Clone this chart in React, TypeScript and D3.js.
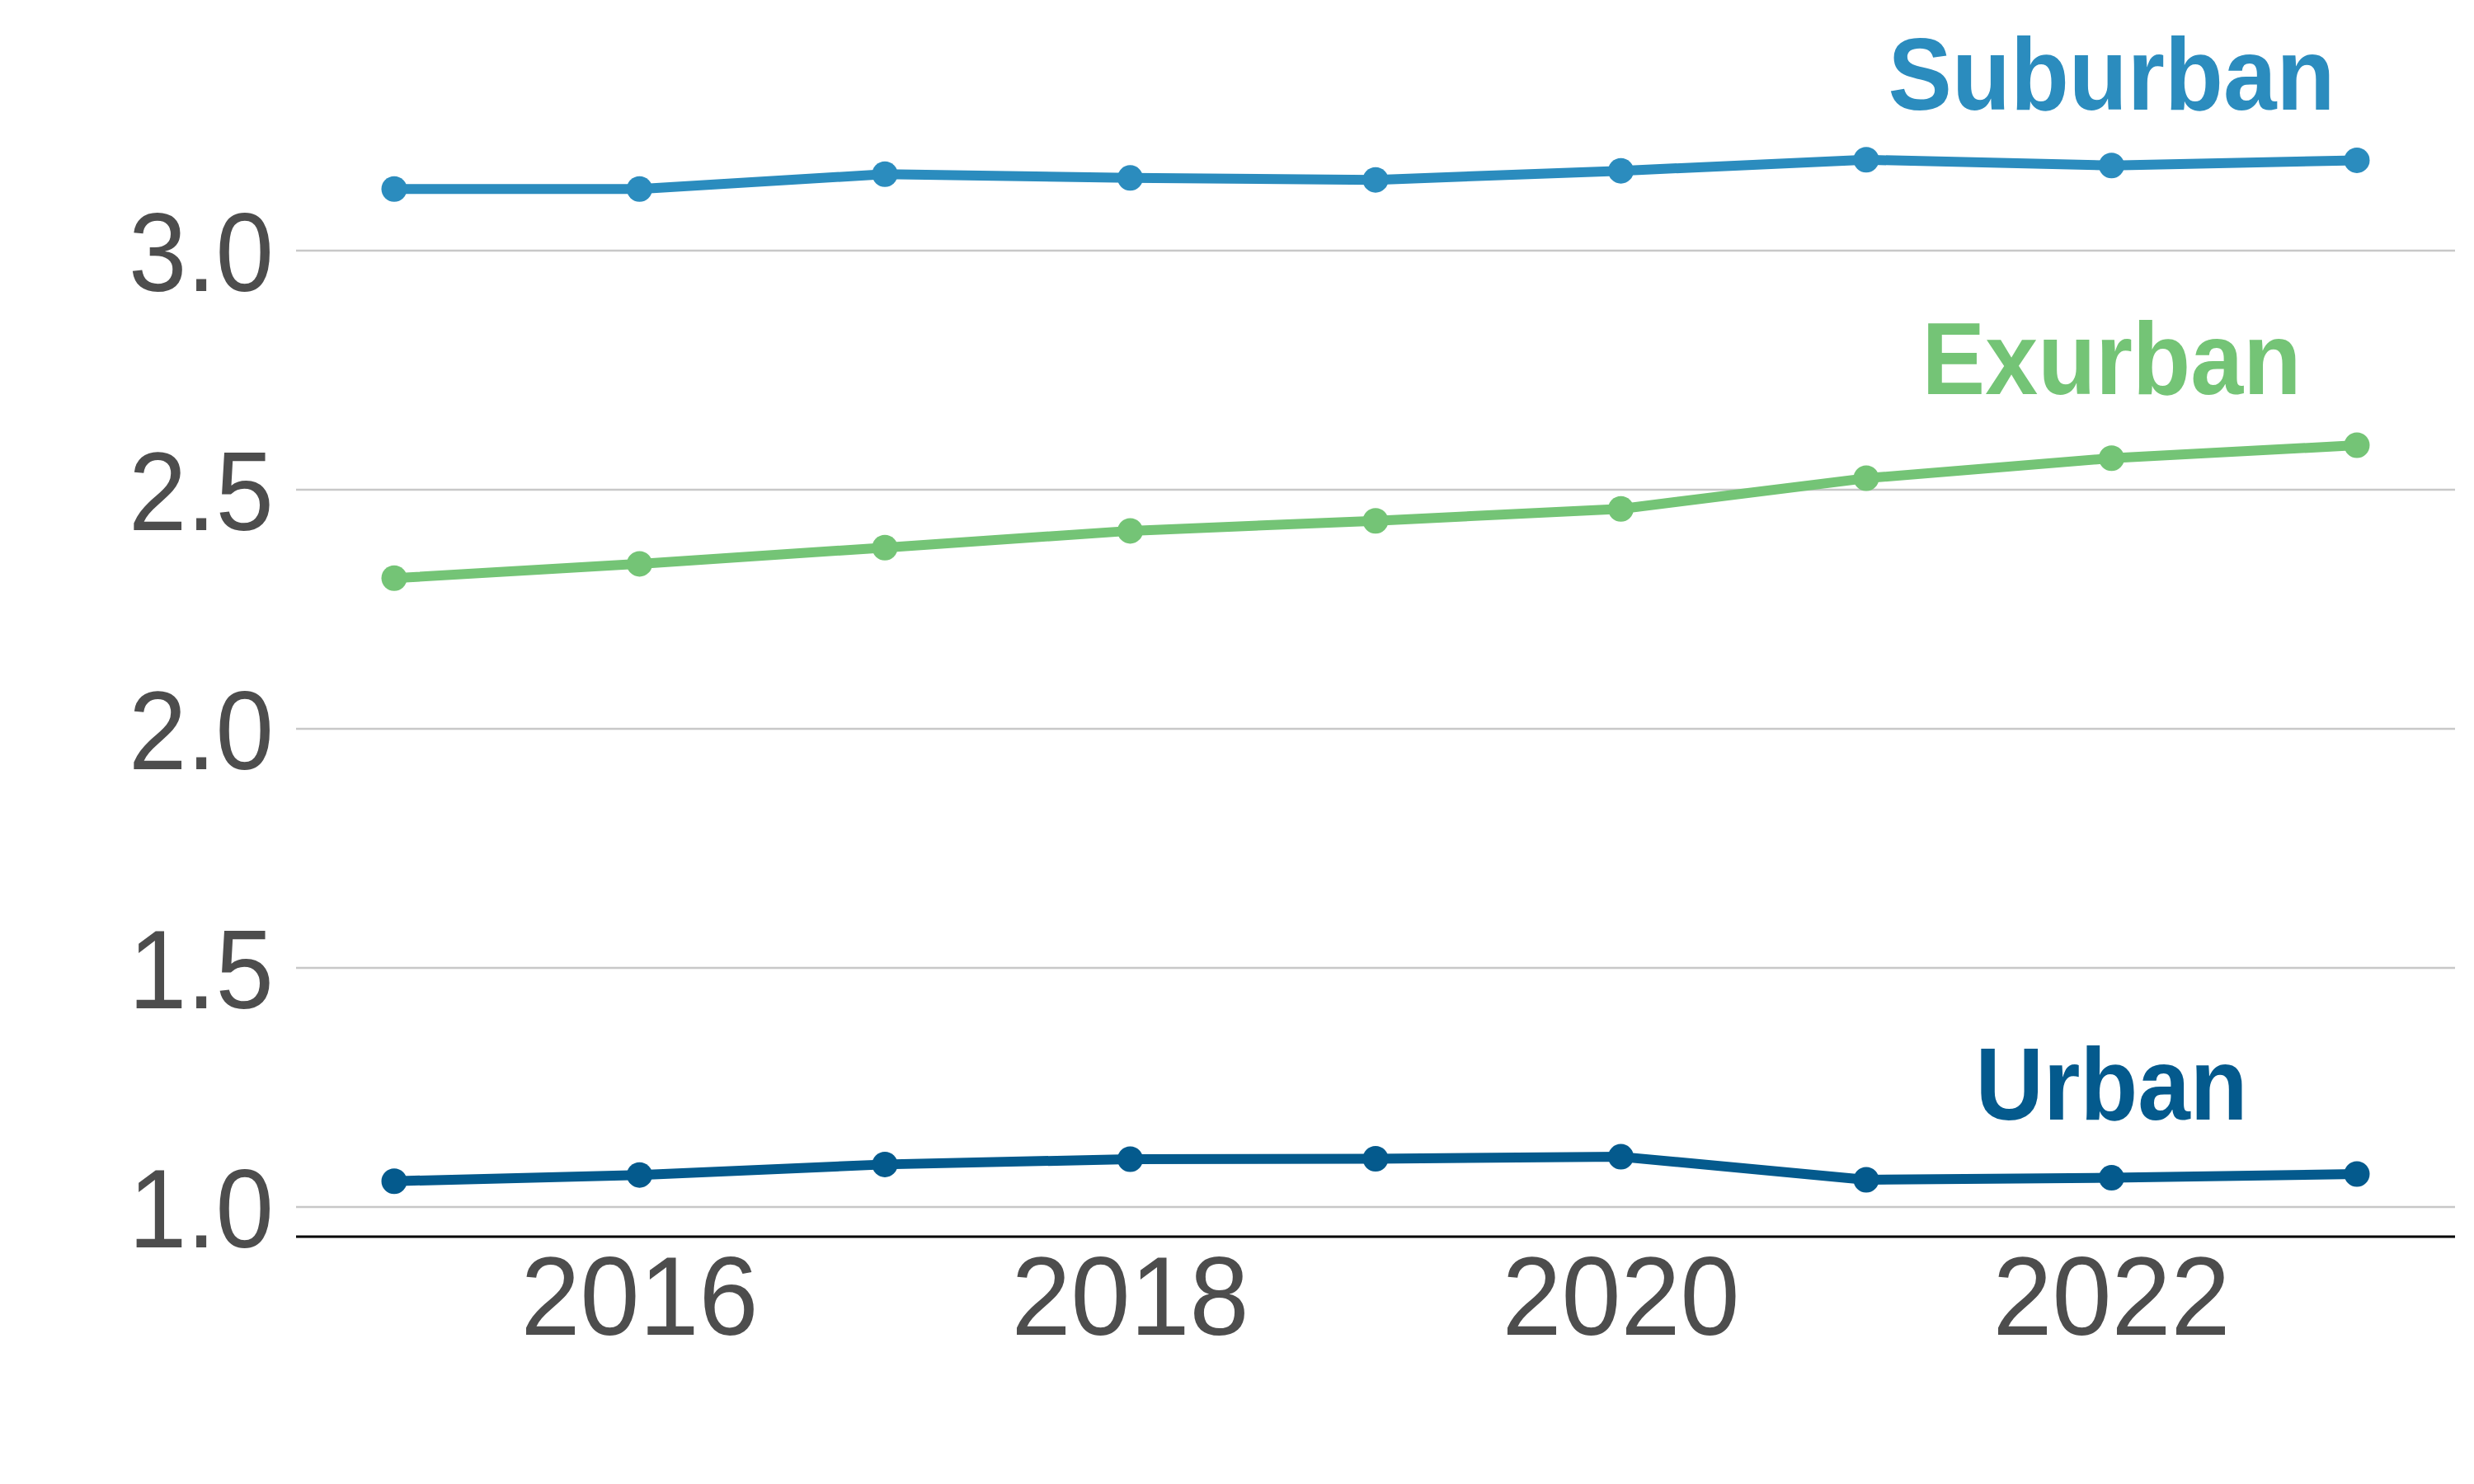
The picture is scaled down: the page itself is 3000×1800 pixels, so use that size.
import React from "react";
import * as d3 from "d3";

const years = [2015, 2016, 2017, 2018, 2019, 2020, 2021, 2022, 2023];
const suburban = [3.129, 3.129, 3.160, 3.152, 3.148, 3.167, 3.190, 3.178, 3.189];
const exurban = [2.315, 2.345, 2.379, 2.414, 2.435, 2.460, 2.524, 2.566, 2.593];
const urban = [1.054, 1.067, 1.089, 1.100, 1.101, 1.105, 1.057, 1.061, 1.069];
const seriesNames = ["Suburban", "Exurban", "Urban"];
const seriesColors = ["#2b8cbe", "#74c476", "#045a8d"];
const labelValues = [3.295, 2.70, 1.183];
const labelYear = 2022;
const labelWidths = [542, 460, 330];
const yTicks = [1.0, 1.5, 2.0, 2.5, 3.0];
const xTicks = [2016, 2018, 2020, 2022];

export default function App() {
  const W = 3000, H = 1800;
  const x = d3.scaleLinear().domain([2014.6, 2023.4]).range([359, 2977]);
  const y = d3.scaleLinear().domain([1.0, 3.0]).range([1464, 304]);
  const axisValue = 0.938;
  const line = d3.line<[number, number]>().x(d => x(d[0])).y(d => y(d[1]));
  const data = [suburban, exurban, urban];
  const font = "'Liberation Sans', Arial, Helvetica, sans-serif";
  return (
    <svg width={W} height={H} style={{ position: "absolute", left: 0, top: 0, background: "#fff" }}>
      <rect x={0} y={0} width={W} height={H} fill="#fff" />
      {yTicks.map(t => (
        <g key={t}>
          <line x1={x.range()[0]} x2={x.range()[1]} y1={y(t)} y2={y(t)} stroke="#c8c8c8" strokeWidth={2.5} />
          <text x={332} y={y(t)} dy="0.36em" textAnchor="end" fontFamily={font} fontSize={136} fill="#4d4d4d"
            textLength={176} lengthAdjust="spacingAndGlyphs">{d3.format(".1f")(t)}</text>
        </g>
      ))}
      <line x1={x.range()[0]} x2={x.range()[1]} y1={y(axisValue)} y2={y(axisValue)} stroke="#000" strokeWidth={3} />
      {xTicks.map(t => (
        <text key={t} x={x(t)} y={1619} textAnchor="middle" fontFamily={font} fontSize={136} fill="#4d4d4d"
          textLength={288} lengthAdjust="spacingAndGlyphs">{String(t)}</text>
      ))}
      {data.map((vals, i) => {
        const pts = years.map((yr, j) => [yr, vals[j]] as [number, number]);
        return (
          <g key={seriesNames[i]}>
            <path d={line(pts) || ""} fill="none" stroke={seriesColors[i]} strokeWidth={12} strokeLinejoin="round" />
            {pts.map((p, j) => (
              <circle key={j} cx={x(p[0])} cy={y(p[1])} r={15.5} fill={seriesColors[i]} />
            ))}
            <text x={x(labelYear)} y={y(labelValues[i])} textAnchor="middle" fontFamily={font} fontWeight="bold" fontSize={124}
              fill={seriesColors[i]} textLength={labelWidths[i]} lengthAdjust="spacingAndGlyphs">{seriesNames[i]}</text>
          </g>
        );
      })}
    </svg>
  );
}
